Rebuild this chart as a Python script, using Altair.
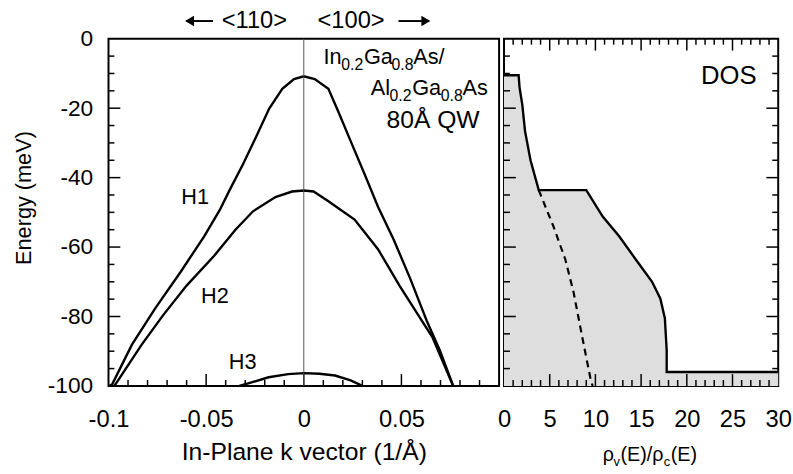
import altair as alt
import pandas as pd

FONT = "Liberation Sans"

# ---------------- data ----------------
# valence subbands (in-plane k in 1/Å, energy in meV)
h1_k = [-0.0995, -0.098, -0.088, -0.076, -0.063, -0.051, -0.043, -0.038, -0.031, -0.0247,
        -0.0177, -0.011, -0.005, 0.0, 0.0056, 0.0126, 0.0177, 0.024, 0.031, 0.038,
        0.046, 0.0545, 0.063, 0.0697, 0.0765]
h1_e = [-100.0, -99.4, -88.1, -77.6, -67.1, -56.9, -49.3, -43.6, -36.0, -28.6,
        -20.1, -14.4, -11.6, -10.8, -11.6, -14.4, -21.0, -29.5, -38.8, -48.4,
        -57.8, -69.1, -81.3, -89.8, -100.0]

h2_k = [-0.097, -0.095, -0.083, -0.072, -0.060, -0.046, -0.035, -0.026, -0.0145, -0.006,
        0.0, 0.005, 0.0126, 0.026, 0.038, 0.049, 0.0596, 0.066, 0.0765]
h2_e = [-100.0, -98.3, -88.1, -79.6, -71.1, -62.6, -55.0, -49.7, -45.6, -44.0,
        -43.7, -44.0, -46.8, -52.1, -60.6, -71.1, -80.5, -86.1, -100.0]

h3_k = [-0.033, -0.028, -0.018, -0.008, 0.0, 0.008, 0.016, 0.024, 0.030]
h3_e = [-100.0, -99.2, -97.5, -96.6, -96.3, -96.5, -97.0, -98.4, -100.0]

# density of states (rho_v / rho_c) vs energy
dos_x = [0.0, 1.6, 1.7, 2.0, 2.3, 2.9, 3.8, 9.0, 10.8, 12.6, 14.4, 16.2, 17.1, 17.6, 17.8, 17.8, 30.0]
dos_e = [-10.5, -10.5, -14.0, -19.0, -26.6, -35.0, -43.6, -43.6, -51.2, -56.9, -63.5, -70.0,
         -74.8, -80.5, -89.8, -96.0, -96.0]
dos_dash_x = [3.8, 5.4, 6.7, 7.6, 8.3, 9.0, 9.5, 9.7]
dos_dash_e = [-43.6, -54.0, -63.5, -72.9, -82.4, -91.8, -98.4, -100.0]

# axis ticks / labels
k_labels = [-0.1, -0.05, 0.0, 0.05]
k_major = [-0.05, 0.0, 0.05]
k_minor = [-0.09, -0.08, -0.07, -0.06, -0.04, -0.03, -0.02, -0.01,
           0.01, 0.02, 0.03, 0.04, 0.06, 0.07, 0.08, 0.09]
e_labels = [0, -20, -40, -60, -80, -100]
e_major = [-20, -40, -60, -80]
e_minor = [-5, -10, -15, -25, -30, -35, -45, -50, -55, -65, -70, -75, -85, -90, -95]
d_labels = [0, 5, 10, 15, 20, 25, 30]
d_major = [5, 10, 15, 20, 25]
d_minor = [1, 2, 3, 4, 6, 7, 8, 9, 11, 12, 13, 14, 16, 17, 18, 19, 21, 22, 23, 24, 26, 27, 28, 29]

band_names = ["H1", "H2", "H3"]
heading = ["<110>", "<100>"]
line1 = ["In", "0.2", "Ga", "0.8", "As/"]
line2 = ["Al", "0.2", "Ga", "0.8", "As"]
dos_title = ["ρ", "v", "(E)/ρ", "c", "(E)"]

# ---------------- scales & axes (identical in every layer of a panel) ----------------
K_DOM, E_DOM, D_DOM = [-0.1, 0.1], [-100, 0], [0, 30]
KS = alt.Scale(domain=K_DOM, nice=False, zero=False)
ES = alt.Scale(domain=E_DOM, nice=False, zero=False)
DS = alt.Scale(domain=D_DOM, nice=False, zero=False)

AX_K = alt.Axis(values=k_labels, labelExpr="toString(datum.value)", labelFontSize=24,
                titleFontSize=25, labelPadding=22, titlePadding=9)
AX_E = alt.Axis(values=e_labels, labelExpr="toString(datum.value)", labelFontSize=23,
                titleFontSize=22, labelPadding=16, titlePadding=12, titleY=161)
AX_D = alt.Axis(values=d_labels, labelExpr="toString(datum.value)", labelFontSize=24,
                labelPadding=22)

W_L, W_R, H = 396, 278, 352
# data units per screen pixel, used to turn tick lengths into data spans
K_PX = (K_DOM[1] - K_DOM[0]) / W_L
D_PX = (D_DOM[1] - D_DOM[0]) / W_R
E_PX = (E_DOM[1] - E_DOM[0]) / H
MINOR, MAJOR = 6, 12


def X(field, panel):
    if panel == "L":
        return alt.X(field, type="quantitative", scale=KS, title="In-Plane k vector (1/Å)", axis=AX_K)
    return alt.X(field, type="quantitative", scale=DS, title=None, axis=AX_D, stack=None)


def Y(field, panel):
    if panel == "L":
        return alt.Y(field, type="quantitative", scale=ES, title="Energy (meV)", axis=AX_E, stack=None)
    return alt.Y(field, type="quantitative", scale=ES, axis=None, stack=None)


def curve(xs, es, panel, width=2.4, dash=None):
    df = pd.DataFrame({"x": xs, "E": es, "i": list(range(len(xs)))})
    kw = dict(color="black", strokeWidth=width)
    if dash:
        kw["strokeDash"] = dash
    return alt.Chart(df).mark_line(**kw).encode(x=X("x", panel), y=Y("E", panel), order="i:Q")


def label(xv, yv, text, size, panel, align="center", baseline="middle", dx=0, dy=0):
    df = pd.DataFrame({"x": [xv], "y": [yv], "t": [text]})
    return alt.Chart(df).mark_text(
        font=FONT, fontSize=size, align=align, baseline=baseline, dx=dx, dy=dy, color="black"
    ).encode(x=X("x", panel), y=Y("y", panel), text="t:N")


def tick_lines(groups, panel):
    """Inward ticks drawn as short two-point line segments.
    groups: list of (tick values, edge value, edge kind, length px, direction)."""
    xpx = K_PX if panel == "L" else D_PX
    xs, es, ids, order = [], [], [], []
    n = 0
    for vals, at, kind, length, sign in groups:
        for v in vals:
            if kind == "h":        # tick on a horizontal edge (bottom/top)
                pts = [(v, at), (v, at + sign * length * E_PX)]
            else:                  # tick on a vertical edge (left/right)
                pts = [(at, v), (at + sign * length * xpx, v)]
            for j, (px, py) in enumerate(pts):
                xs.append(float(px))
                es.append(float(py))
                ids.append(n)
                order.append(j)
            n += 1
    df = pd.DataFrame({"x": xs, "E": es, "id": ids, "i": order})
    return alt.Chart(df).mark_line(color="black", strokeWidth=1.5).encode(
        x=X("x", panel), y=Y("E", panel), detail="id:N", order="i:Q")


# ---------------- left panel ----------------
zero_line = alt.Chart(pd.DataFrame({"x": [0.0]})).mark_rule(color="#555555", strokeWidth=1).encode(
    x=X("x", "L"))

left_ticks = tick_lines([
    (k_minor, -100, "h", MINOR, 1),
    (k_major, -100, "h", MAJOR, 1),
    (e_minor, -0.1, "v", MINOR, 1),
    (e_major, -0.1, "v", MAJOR, 1),
], "L")

left_layers = [curve(h1_k, h1_e, "L"), left_ticks, curve(h2_k, h2_e, "L"), curve(h3_k, h3_e, "L"),
               zero_line,
               label(-0.0556, -45.6, band_names[0], 22, "L"),
               label(-0.0455, -74.2, band_names[1], 22, "L"),
               label(-0.0313, -93.2, band_names[2], 22, "L"),
               label(-0.0253, 5.1, heading[0], 24, "L"),
               label(0.0242, 5.1, heading[1], 24, "L"),
               label(0.0662, -25.8, "80Å QW", 25, "L", baseline="alphabetic")]

# composition labels with subscripts
dx1 = [0, 18, 41, 69, 91]
dx2 = [0, 19, 42, 71, 93]
for j, t in enumerate(line1):
    sub = j in (1, 3)
    left_layers.append(label(0.0101, -7.4, t, 16 if sub else 22, "L", align="left",
                             baseline="alphabetic", dx=dx1[j], dy=6 if sub else 0))
for j, t in enumerate(line2):
    sub = j in (1, 3)
    left_layers.append(label(0.0343, -16.1, t, 16 if sub else 22, "L", align="left",
                             baseline="alphabetic", dx=dx2[j], dy=6 if sub else 0))

# arrows of the heading
arrow_df = pd.DataFrame({"x": [-0.0600, 0.0485], "b": [-0.0465, 0.0640], "y": [5.1, 5.1]})
arrows = alt.Chart(arrow_df).mark_rule(color="black", strokeWidth=2).encode(
    x=X("x", "L"), x2="b:Q", y=Y("y", "L"))
head_l = alt.Chart(pd.DataFrame({"x": [-0.0585], "y": [5.1]})).mark_point(
    shape="triangle-left", filled=True, size=110, color="black", opacity=1).encode(
    x=X("x", "L"), y=Y("y", "L"))
head_r = alt.Chart(pd.DataFrame({"x": [0.0625], "y": [5.1]})).mark_point(
    shape="triangle-right", filled=True, size=110, color="black", opacity=1).encode(
    x=X("x", "L"), y=Y("y", "L"))
left_layers += [arrows, head_l, head_r]

left = alt.layer(*left_layers).properties(width=W_L, height=H)

# ---------------- right panel (DOS) ----------------
# filled region between rho = 0 and the solid DOS curve
fill_df = pd.DataFrame({"x": dos_x + [30.0], "E": dos_e + [-100.0]})
dos_fill = alt.Chart(fill_df).mark_area(orient="horizontal", color="#dedede", opacity=1).encode(
    x=X("x", "R"), y=Y("E", "R"))

right_ticks = tick_lines([
    (d_minor, -100, "h", MINOR, 1),
    (d_major, -100, "h", MAJOR, 1),
    (d_minor, 0, "h", MINOR, -1),
    (d_major, 0, "h", MAJOR, -1),
    (e_minor, 0, "v", MINOR, 1),
    (e_major, 0, "v", MAJOR, 1),
    (e_minor, 30, "v", MINOR, -1),
    (e_major, 30, "v", MAJOR, -1),
], "R")

right_layers = [dos_fill, right_ticks, curve(dos_x, dos_e, "R"),
                curve(dos_dash_x, dos_dash_e, "R", width=2.2, dash=[7, 5]),
                label(24.6, -13.0, "DOS", 26, "R", baseline="alphabetic")]
dxt = [0, 11, 18, 62, 69]
for j, t in enumerate(dos_title):
    sub = j in (1, 3)
    right_layers.append(label(10.8, -121.5, t, 13 if sub else 20, "R", align="left",
                              baseline="alphabetic", dx=dxt[j], dy=6 if sub else 0))

right = alt.layer(*right_layers).properties(width=W_R, height=H)

chart = alt.hconcat(left, right, spacing=-4).properties(
    padding={"left": 11, "top": 5, "right": 0, "bottom": 0}
).configure_view(
    stroke="black", strokeWidth=2
).configure_axis(
    grid=False, ticks=False, domain=False, labelFont=FONT, titleFont=FONT,
    labelColor="black", titleColor="black", titleFontWeight="normal",
    labelFlush=False, labelOverlap=False,
)

chart.save("out.html", embed_options={"renderer": "svg", "actions": False})
